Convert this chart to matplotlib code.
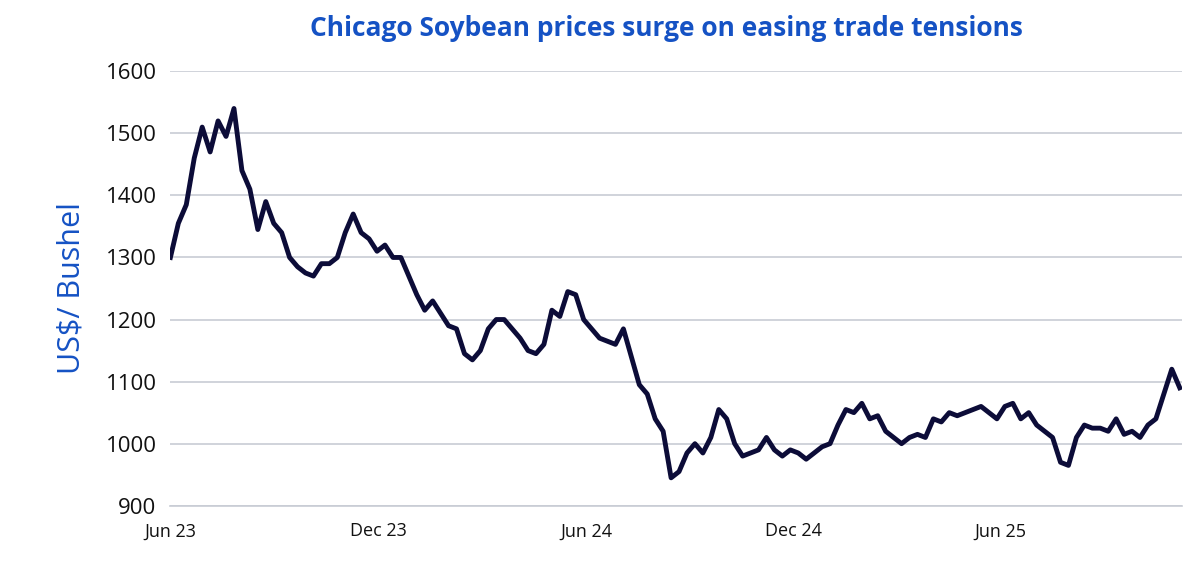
import matplotlib.pyplot as plt
import pandas as pd

prices = [1300, 1355, 1385, 1460, 1510, 1470, 1520, 1495, 1540, 1440,
          1410, 1345, 1390, 1355, 1340, 1300, 1285, 1275, 1270, 1290,
          1290, 1300, 1340, 1370, 1340, 1330, 1310, 1320, 1300, 1300,
          1270, 1240, 1215, 1230, 1210, 1190, 1185, 1145, 1135, 1150,
          1185, 1200, 1200, 1185, 1170, 1150, 1145, 1160, 1215, 1205,
          1245, 1240, 1200, 1185, 1170, 1165, 1160, 1185, 1140, 1095,
          1080, 1040, 1020, 945, 955, 985, 1000, 985, 1010, 1055,
          1040, 1000, 980, 985, 990, 1010, 990, 980, 990, 985,
          975, 985, 995, 1000, 1030, 1055, 1050, 1065, 1040, 1045,
          1020, 1010, 1000, 1010, 1015, 1010, 1040, 1035, 1050, 1045,
          1050, 1055, 1060, 1050, 1040, 1060, 1065, 1040, 1050, 1030,
          1020, 1010, 970, 965, 1010, 1030, 1025, 1025, 1020, 1040,
          1015, 1020, 1010, 1030, 1040, 1080, 1120, 1090]
dates = pd.date_range("2023-06-01", periods=len(prices), freq="W")
dates = dates - (dates[0] - pd.Timestamp("2023-06-01"))
tick_dates = pd.to_datetime(["2023-06-01", "2023-12-01", "2024-06-01", "2024-12-01", "2025-06-01"])
tick_labels = ["Jun 23", "Dec 23", "Jun 24", "Dec 24", "Jun 25"]

plt.rcParams['font.family'] = ['Open Sans', 'DejaVu Sans']
fig, ax = plt.subplots(figsize=(12, 5.84), dpi=100)
fig.subplots_adjust(left=0.142, right=0.985, top=0.878, bottom=0.134)

ax.plot(dates, prices, color="#0c0c38", lw=3.5, solid_joinstyle="round")
ax.set_ylim(900, 1600)
ax.set_yticks(range(900, 1601, 100))
ax.set_xlim(dates[0], dates[-1] + pd.Timedelta(days=2))
ax.set_xticks(tick_dates)
ax.set_xticklabels(tick_labels)
ax.grid(axis="y", color="#c8ccd4", lw=1.2)
ax.set_axisbelow(True)
for s in ["top", "right", "left"]:
    ax.spines[s].set_visible(False)
ax.spines["bottom"].set_color("#c8ccd4")
ax.spines["bottom"].set_linewidth(1.2)
ax.tick_params(axis="y", length=0, labelsize=16, colors="#111111", pad=10)
ax.tick_params(axis="x", length=0, labelsize=13, colors="#111111", pad=12)
ax.set_ylabel("US$/ Bushel", fontsize=22, color="#1552c4", labelpad=14)
fig.suptitle("Chicago Soybean prices surge on easing trade tensions",
             fontsize=19, fontweight="bold", color="#1552c4", x=0.555, y=0.975)
fig.savefig("out.png")
